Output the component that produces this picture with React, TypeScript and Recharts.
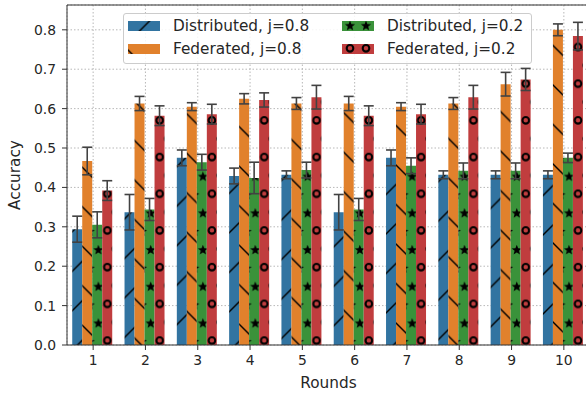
import React from 'react';
import { BarChart, Bar, XAxis, YAxis, CartesianGrid, ErrorBar, Legend, ReferenceLine, Label } from 'recharts';

const rounds = ['1', '2', '3', '4', '5', '6', '7', '8', '9', '10'];
const distributed08 = [0.294, 0.337, 0.475, 0.429, 0.432, 0.337, 0.475, 0.432, 0.432, 0.432];
const distributed08Err = [0.033, 0.045, 0.02, 0.02, 0.01, 0.045, 0.02, 0.01, 0.01, 0.01];
const federated08 = [0.467, 0.613, 0.605, 0.625, 0.613, 0.613, 0.605, 0.613, 0.662, 0.8];
const federated08Err = [0.035, 0.018, 0.01, 0.013, 0.015, 0.018, 0.01, 0.015, 0.03, 0.015];
const distributed02 = [0.305, 0.344, 0.464, 0.424, 0.444, 0.344, 0.455, 0.442, 0.442, 0.475];
const distributed02Err = [0.033, 0.028, 0.02, 0.04, 0.02, 0.028, 0.02, 0.02, 0.02, 0.012];
const federated02 = [0.392, 0.582, 0.586, 0.622, 0.629, 0.582, 0.586, 0.629, 0.674, 0.784];
const federated02Err = [0.025, 0.025, 0.025, 0.018, 0.03, 0.025, 0.025, 0.03, 0.028, 0.035];
const yTicks = [0, 0.1, 0.2, 0.3, 0.4, 0.5, 0.6, 0.7, 0.8];
const Y_MAX = 0.863;

const seriesNames = ['Distributed, j=0.8', 'Federated, j=0.8', 'Distributed, j=0.2', 'Federated, j=0.2'];
const seriesKeys = ['d08', 'f08', 'd02', 'f02'];
const seriesColors = ['#3274a1', '#e1812c', '#3a923a', '#c03d3e'];
const seriesHatch = ['slash', 'backslash', 'star', 'circle'];

const data = rounds.map((r, i) => ({
  round: r,
  d08: distributed08[i], d08e: distributed08Err[i],
  f08: federated08[i], f08e: federated08Err[i],
  d02: distributed02[i], d02e: distributed02Err[i],
  f02: federated02[i], f02e: federated02Err[i],
}));

const FONT = '"DejaVu Sans", sans-serif';
const TEXT = '#262626';

const starPts = '0,-5.4 1.35,-1.84 5.14,-1.67 2.17,0.7 3.17,4.37 0,2.28 -3.17,4.37 -2.17,0.7 -5.14,-1.67 -1.35,-1.84';

// hatch tiles; the star/circle tiles repeat once per category band so every bar shows the same phase
function Patterns({ prefix, band, ox, oy, starC, circC, half }: { prefix: string; band: number; ox: number; oy: number; starC: number; circC: number; half: number }) {
  const L = 39.5;
  const SH = 36.7;
  const sy = 29.9;
  const cyy = 10.2;
  const starList = [
    [starC, sy], [starC, sy - SH], [starC, sy + SH],
    [starC - half - 3.5, sy - SH / 2], [starC - half - 3.5, sy + SH / 2],
  ];
  const circList = [
    [circC, cyy], [circC, cyy - SH], [circC, cyy + SH],
    [circC + half + 3.5, cyy - SH / 2], [circC + half + 3.5, cyy + SH / 2],
  ];
  return (
    <defs>
      <pattern id={`${prefix}-slash`} patternUnits="userSpaceOnUse" width={L} height={L} x={ox} y={oy}>
        <rect width={L} height={L} fill={seriesColors[0]} />
        <path d={`M-5,5 L5,-5 M0,${L} L${L},0 M${L - 5},${L + 5} L${L + 5},${L - 5}`} stroke="#000" strokeWidth={1.4} />
      </pattern>
      <pattern id={`${prefix}-backslash`} patternUnits="userSpaceOnUse" width={L} height={L} x={12 + ox} y={6 + oy}>
        <rect width={L} height={L} fill={seriesColors[1]} />
        <path d={`M-5,${L - 5} L5,${L + 5} M0,0 L${L},${L} M${L - 5},-5 L${L + 5},5`} stroke="#000" strokeWidth={1.4} />
      </pattern>
      <pattern id={`${prefix}-star`} patternUnits="userSpaceOnUse" width={band} height={SH} x={ox} y={oy}>
        <rect width={band} height={SH} fill={seriesColors[2]} />
        {starList.map(([cx, cy], i) => (
          <polygon key={i} points={starPts} transform={`translate(${cx},${cy})`} fill="#000" />
        ))}
      </pattern>
      <pattern id={`${prefix}-circle`} patternUnits="userSpaceOnUse" width={band} height={SH} x={ox} y={oy}>
        <rect width={band} height={SH} fill={seriesColors[3]} />
        {circList.map(([cx, cy], i) => (
          <circle key={i} cx={cx} cy={cy} r={3.3} fill="none" stroke="#000" strokeWidth={2.1} />
        ))}
      </pattern>
    </defs>
  );
}

const legendOffsets = [[-12, -6], [-24, -12], [0, -25], [0, -6]];

const LegendBox = () => (
  <div
    style={{
      boxSizing: 'border-box',
      width: 409,
      height: 51,
      border: '1px solid #cccccc',
      borderRadius: 3,
      background: 'rgba(255,255,255,0.85)',
      fontFamily: FONT,
      fontSize: 15.3,
      color: TEXT,
      position: 'relative',
    }}
  >
    {seriesNames.map((name, i) => {
      const col = i < 2 ? 0 : 1;
      const row = i % 2;
      return (
        <div
          key={name}
          style={{
            position: 'absolute',
            left: col ? 218 : 4,
            top: row ? 25.3 : 2,
            height: 20,
            display: 'flex',
            alignItems: 'center',
            whiteSpace: 'nowrap',
          }}
        >
          <svg width={32} height={10} style={{ display: 'block' }}>
            <Patterns prefix={`lg${i}`} band={16} ox={legendOffsets[i][0]} oy={legendOffsets[i][1]} starC={8} circC={8} half={5} />
            <rect width={32} height={10} fill={`url(#lg${i}-${seriesHatch[i]})`} />
          </svg>
          <span style={{ marginLeft: 13, lineHeight: '20px' }}>{name}</span>
        </div>
      );
    })}
  </div>
);

const YTitle = (props: any) => {
  const vb = props.viewBox || { x: 0, y: 5, width: 67, height: 340 };
  const cx = vb.x + 15;
  const cy = vb.y + vb.height / 2;
  return (
    <text x={cx} y={cy} transform={`rotate(-90 ${cx} ${cy})`} textAnchor="middle" dominantBaseline="central"
      fontFamily={FONT} fontSize={15.3} fill={TEXT}>Accuracy</text>
  );
};

const XTitle = (props: any) => {
  const vb = props.viewBox || { x: 67, y: 345, width: 523, height: 51 };
  const cx = vb.x + vb.width / 2;
  const cy = vb.y + 38;
  return (
    <text x={cx} y={cy} textAnchor="middle" dominantBaseline="central" fontFamily={FONT} fontSize={15.3} fill={TEXT}>Rounds</text>
  );
};

const CHART_W = 590;
const Y_AXIS_W = 67;
const BAND = (CHART_W - Y_AXIS_W) / rounds.length;

export default function App() {
  return (
    <div style={{ position: 'absolute', left: 0, top: 0, width: 586, height: 396, overflow: 'hidden', background: '#fff' }}>
      <BarChart
        width={CHART_W}
        height={396}
        data={data}
        margin={{ top: 5, right: 0, bottom: 0, left: 0 }}
        barCategoryGap="10%"
        barGap={0}
      >
        <Patterns prefix="ch" band={BAND} ox={Y_AXIS_W} oy={0} starC={BAND * 0.6} circC={BAND * 0.8 - 1.5} half={BAND * 0.1} />
        <XAxis
          dataKey="round"
          height={51}
          tickSize={5}
          tickMargin={5}
          stroke="#333"
          tick={{ fontFamily: FONT, fontSize: 13.9, fill: TEXT }}
          interval={0}
        >
          <Label content={XTitle} />
        </XAxis>
        <YAxis
          width={Y_AXIS_W}
          domain={[0, Y_MAX]}
          ticks={yTicks}
          tickFormatter={(v: number) => v.toFixed(1)}
          tickSize={5}
          tickMargin={6}
          stroke="#333"
          tick={{ fontFamily: FONT, fontSize: 13.9, fill: TEXT }}
          allowDataOverflow
        >
          <Label content={YTitle} />
        </YAxis>
        {seriesKeys.map((k, i) => (
          <Bar key={k} dataKey={k} name={seriesNames[i]} fill={`url(#ch-${seriesHatch[i]})`} isAnimationActive={false}>
            <ErrorBar dataKey={`${k}e`} width={5} strokeWidth={1.6} stroke="#424242" direction="y" isAnimationActive={false} />
          </Bar>
        ))}
        <CartesianGrid stroke="#b0b0b0" strokeDasharray="1.5 2" strokeWidth={0.9} />
        <ReferenceLine y={Y_MAX} stroke="#333" strokeWidth={1} />
        <Legend
          layout="horizontal"
          verticalAlign="middle"
          align="center"
          content={LegendBox}
          wrapperStyle={{ left: 123, top: 13, width: 409, height: 51 }}
        />
      </BarChart>
    </div>
  );
}
